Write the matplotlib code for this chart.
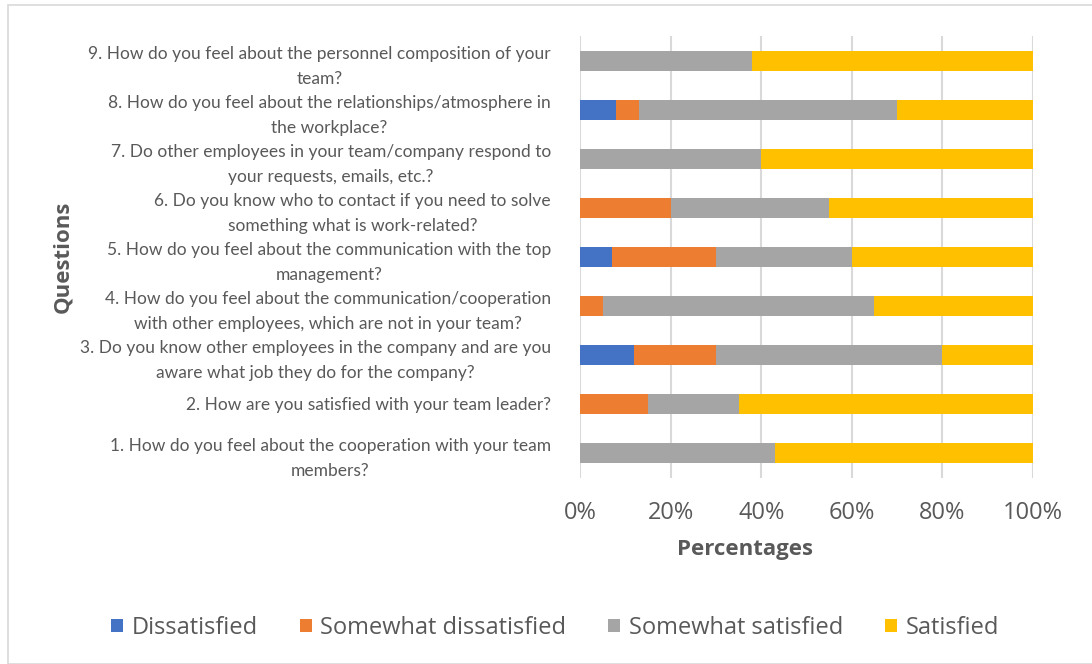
import matplotlib.pyplot as plt
import numpy as np
from matplotlib.patches import Patch, Rectangle

questions = [
    "1. How do you feel about the cooperation with your team\nmembers?",
    "2. How are you satisfied with your team leader?",
    "3. Do you know other employees in the company and are you\naware what job they do for the company?",
    "4. How do you feel about the communication/cooperation\nwith other employees, which are not in your team?",
    "5. How do you feel about the communication with the top\nmanagement?",
    "6. Do you know who to contact if you need to solve\nsomething what is work-related?",
    "7. Do other employees in your team/company respond to\nyour requests, emails, etc.?",
    "8. How do you feel about the relationships/atmosphere in\nthe workplace?",
    "9. How do you feel about the personnel composition of your\nteam?",
]

dissatisfied = [0, 0, 12, 0, 7, 0, 0, 8, 0]
somewhat_dissatisfied = [0, 15, 18, 5, 23, 20, 0, 5, 0]
somewhat_satisfied = [43, 20, 50, 60, 30, 35, 40, 57, 38]
satisfied = [57, 65, 20, 35, 40, 45, 60, 30, 62]

series = [
    ("Dissatisfied", dissatisfied, "#4472C4"),
    ("Somewhat dissatisfied", somewhat_dissatisfied, "#ED7D31"),
    ("Somewhat satisfied", somewhat_satisfied, "#A5A5A5"),
    ("Satisfied", satisfied, "#FFC000"),
]

text_col = "#595959"

fig = plt.figure(figsize=(10.92, 6.64), dpi=100)
fig.patches.append(Rectangle((8 / 1092, 0), 1.1, 1 - 5 / 664, transform=fig.transFigure,
                             fill=False, edgecolor="#d9d9d9", linewidth=1.2))

ax = fig.add_axes([580 / 1092, 1 - 477.5 / 664, 453 / 1092, 441 / 664])

y = np.arange(len(questions))
left = np.zeros(len(questions))
for name, vals, col in series:
    vals = np.array(vals, dtype=float)
    ax.barh(y, vals, left=left, height=0.39, color=col, label=name, zorder=3)
    left += vals

ax.set_xlim(0, 100)
ax.set_ylim(-0.5, len(questions) - 0.5)
ax.set_xticks(np.arange(0, 101, 20))
ax.set_xticklabels([f"{v}%" for v in range(0, 101, 20)], fontfamily="Open Sans",
                   fontsize=17, color=text_col)
ax.set_yticks(y)
ax.set_yticklabels(questions, fontfamily="Lato", fontsize=12.5, color=text_col,
                   multialignment="center", linespacing=1.62)
ax.tick_params(axis="both", length=0)
ax.tick_params(axis="y", pad=21)
ax.tick_params(axis="x", pad=17)
ax.grid(axis="x", color="#d9d9d9", linewidth=1.5, zorder=0)
for s in ax.spines.values():
    s.set_visible(False)

fig.text(745 / 1092, 1 - 549 / 664, "Percentages", fontfamily="Open Sans", fontsize=16,
         fontweight="bold", color=text_col, ha="center", va="center")
fig.text(63 / 1092, 1 - 257 / 664, "Questions", fontfamily="Open Sans", fontsize=16,
         fontweight="bold", color=text_col, ha="center", va="center", rotation=90)

handles = [Patch(facecolor=col, label=name) for name, _, col in series]
fig.legend(handles=handles, loc="center", bbox_to_anchor=(555 / 1092, 1 - 628 / 664),
           ncol=4, frameon=False, handlelength=0.5, handleheight=0.5, handletextpad=0.35,
           columnspacing=1.8, prop={"family": "Open Sans", "size": 17}, labelcolor=text_col)

fig.savefig("out.png", dpi=100)
